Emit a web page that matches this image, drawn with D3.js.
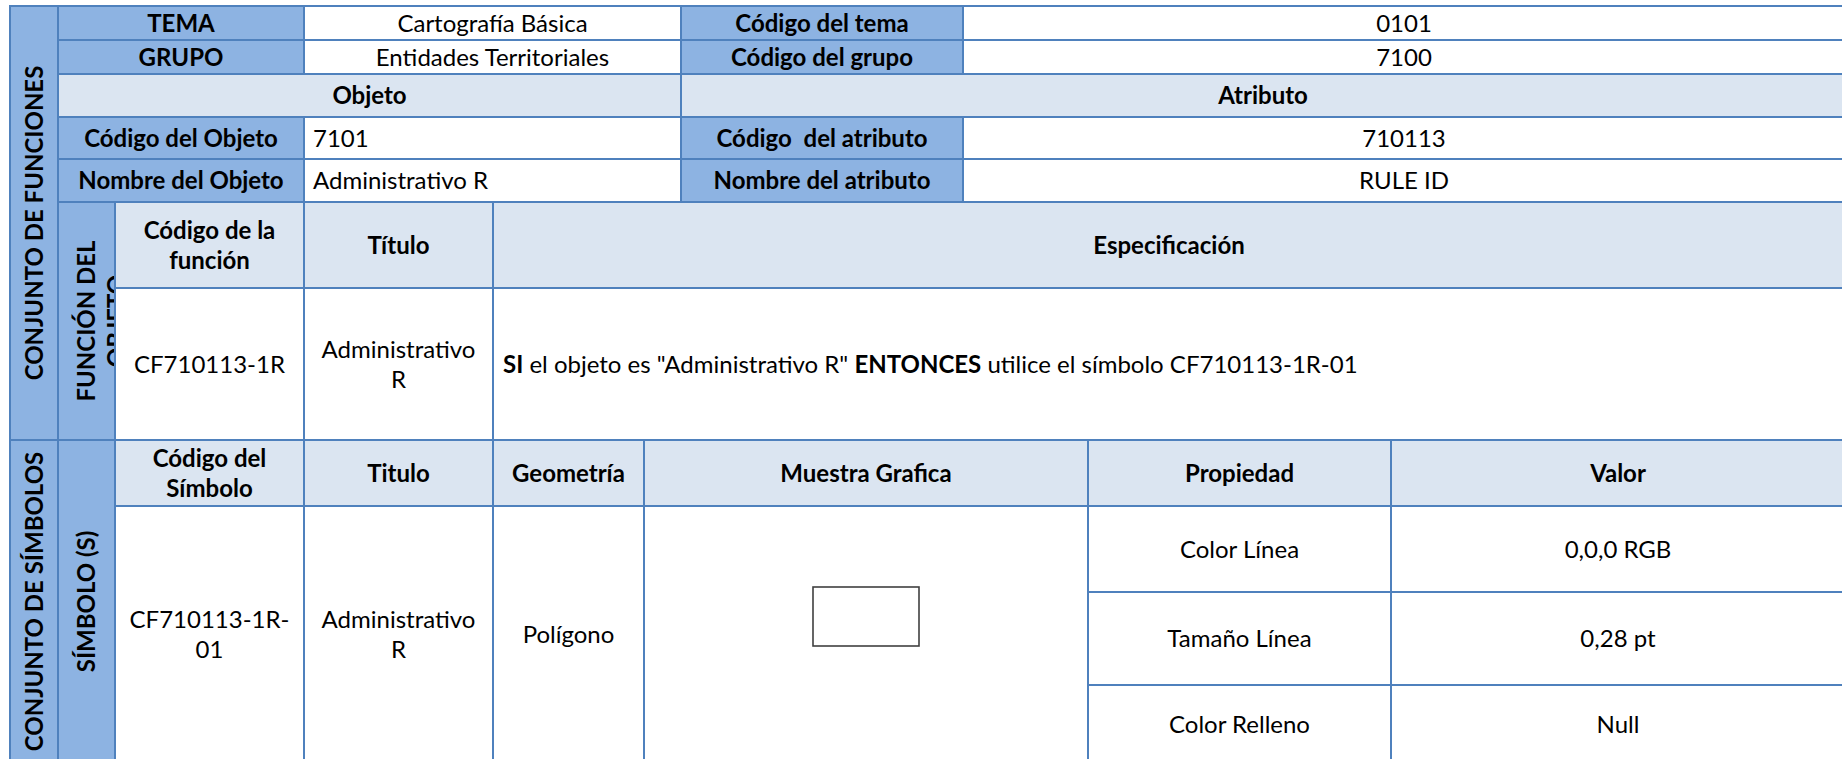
<!DOCTYPE html>
<html>
<head>
<meta charset="utf-8">
<script src="https://cdn.jsdelivr.net/npm/d3@7"></script>
<style>
  html, body { margin: 0; padding: 0; background: #ffffff; overflow: hidden; }
  svg text { font-family: Lato, "Open Sans", sans-serif; white-space: pre; fill: #000; }
</style>
</head>
<body>
<svg id="chart" width="1842" height="759"></svg>
<script>
// ---- data ----
const temaRow = ["TEMA", "Cartografía Básica", "Código del tema", "0101"];
const grupoRow = ["GRUPO", "Entidades Territoriales", "Código del grupo", "7100"];
const seccionTitulos = ["Objeto", "Atributo"];
const codigoRow = ["Código del Objeto", "7101", "Código  del atributo", "710113"];
const nombreRow = ["Nombre del Objeto", "Administrativo R", "Nombre del atributo", "RULE ID"];
const grupoLabels = ["CONJUNTO DE FUNCIONES", "CONJUNTO DE SÍMBOLOS"];
const subgrupoLabels = [["FUNCIÓN DEL", "OBJETO"], ["SÍMBOLO (S)"]];
const funcionHeaders = [["Código de la", "función"], ["Título"], ["Especificación"]];
const funcionValues = [["CF710113-1R"], ["Administrativo", "R"]];
const especificacion = [
  { t: "SI", b: true },
  { t: " el objeto es \"Administrativo R\" ", b: false },
  { t: "ENTONCES", b: true },
  { t: " utilice el símbolo CF710113-1R-01", b: false }
];
const simboloHeaders = [["Código del", "Símbolo"], ["Titulo"], ["Geometría"], ["Muestra Grafica"], ["Propiedad"], ["Valor"]];
const simboloValues = [["CF710113-1R-", "01"], ["Administrativo", "R"], ["Polígono"]];
const propiedades = ["Color Línea", "Tamaño Línea", "Color Relleno"];
const valores = ["0,0,0 RGB", "0,28 pt", "Null"];

// ---- layout ----
const colEdges = [10, 58, 115, 304, 493, 644, 681, 963, 1088, 1391, 1845];
const rowEdges = [6, 40, 74, 117, 159, 202, 288, 440, 506, 592, 685, 763];
const x = d3.scaleOrdinal(d3.range(colEdges.length), colEdges);
const y = d3.scaleOrdinal(d3.range(rowEdges.length), rowEdges);

const DARK = "#8db3e2", LIGHT = "#dbe5f1", WHITE = "#ffffff", BORDER = "#4f81bd";
const FS = 24, LH = 30;

const cells = [];
function cell(c0, c1, r0, r1, fill, lines, opts = {}) {
  cells.push(Object.assign({ c0, c1, r0, r1, fill, lines: Array.isArray(lines) ? lines : [lines] }, opts));
}

// header block
cell(0, 1, 0, 7, DARK, [grupoLabels[0]], { bold: true, rotate: true });
[temaRow, grupoRow].forEach((row, i) => {
  cell(1, 3, i, i + 1, DARK, row[0], { bold: true });
  cell(3, 6, i, i + 1, WHITE, row[1]);
  cell(6, 7, i, i + 1, DARK, row[2], { bold: true });
  cell(7, 10, i, i + 1, WHITE, row[3]);
});
cell(1, 6, 2, 3, LIGHT, seccionTitulos[0], { bold: true });
cell(6, 10, 2, 3, LIGHT, seccionTitulos[1], { bold: true });
[codigoRow, nombreRow].forEach((row, i) => {
  const r = 3 + i;
  cell(1, 3, r, r + 1, DARK, row[0], { bold: true });
  cell(3, 6, r, r + 1, WHITE, row[1], { align: "left" });
  cell(6, 7, r, r + 1, DARK, row[2], { bold: true });
  cell(7, 10, r, r + 1, WHITE, row[3]);
});
// function block
cell(1, 2, 5, 7, DARK, subgrupoLabels[0], { bold: true, rotate: true, firstLineCentered: true, clip: true });
cell(2, 3, 5, 6, LIGHT, funcionHeaders[0], { bold: true });
cell(3, 4, 5, 6, LIGHT, funcionHeaders[1], { bold: true });
cell(4, 10, 5, 6, LIGHT, funcionHeaders[2], { bold: true });
cell(2, 3, 6, 7, WHITE, funcionValues[0]);
cell(3, 4, 6, 7, WHITE, funcionValues[1]);
cell(4, 10, 6, 7, WHITE, [], { rich: especificacion, align: "left" });
// symbol block
cell(0, 1, 7, 11, DARK, [grupoLabels[1]], { bold: true, rotate: true });
cell(1, 2, 7, 11, DARK, subgrupoLabels[1], { bold: true, rotate: true });
const symCols = [[2, 3], [3, 4], [4, 5], [5, 8], [8, 9], [9, 10]];
simboloHeaders.forEach((h, i) => cell(symCols[i][0], symCols[i][1], 7, 8, LIGHT, h, { bold: true }));
simboloValues.forEach((v, i) => cell(symCols[i][0], symCols[i][1], 8, 11, WHITE, v));
cell(5, 8, 8, 11, WHITE, [], { sample: true });
propiedades.forEach((p, i) => {
  cell(8, 9, 8 + i, 9 + i, WHITE, p);
  cell(9, 10, 8 + i, 9 + i, WHITE, valores[i]);
});

// ---- draw ----
const svg = d3.select("#chart");
const defs = svg.append("defs");

const g = svg.selectAll("g.cell").data(cells).join("g").attr("class", "cell");

g.append("rect")
  .attr("x", d => x(d.c0)).attr("y", d => y(d.r0))
  .attr("width", d => x(d.c1) - x(d.c0)).attr("height", d => y(d.r1) - y(d.r0))
  .attr("fill", d => d.fill);

g.each(function (d, i) {
  const sel = d3.select(this);
  const x0 = x(d.c0), x1 = x(d.c1), y0 = y(d.r0), y1 = y(d.r1);
  const cx = (x0 + x1) / 2, cy = (y0 + y1) / 2;
  const tg = sel.append("g");
  if (d.clip) {
    defs.append("clipPath").attr("id", "clip" + i)
      .append("rect").attr("x", x0 + 1).attr("y", y0 + 1).attr("width", x1 - x0 - 2).attr("height", y1 - y0 - 2);
    tg.attr("clip-path", `url(#clip${i})`);
  }
  if (d.sample) {
    tg.append("rect").attr("x", 813).attr("y", 587).attr("width", 106).attr("height", 59)
      .attr("fill", "#fff").attr("stroke", "#404040").attr("stroke-width", 1.6);
    return;
  }
  if (d.rich) {
    const t = tg.append("text").attr("x", x0 + 10).attr("y", cy).attr("dy", "0.36em")
      .attr("font-size", FS);
    d.rich.forEach(p => t.append("tspan").attr("font-weight", p.b ? 700 : 400).text(p.t));
    return;
  }
  const n = d.lines.length;
  const startOff = d.firstLineCentered ? 0 : -(n - 1) * LH / 2;
  const t = tg.append("text")
    .attr("font-size", FS)
    .attr("font-weight", d.bold ? 700 : 400)
    .attr("text-anchor", d.align === "left" ? "start" : "middle");
  if (d.rotate) {
    t.attr("transform", `translate(${cx},${cy}) rotate(-90)`);
    d.lines.forEach((ln, k) => t.append("tspan").attr("x", 0).attr("y", startOff + k * LH).attr("dy", "0.36em").text(ln));
  } else {
    const tx = d.align === "left" ? x0 + 9 : cx;
    d.lines.forEach((ln, k) => t.append("tspan").attr("x", tx).attr("y", cy + startOff + k * LH).attr("dy", "0.36em").text(ln));
  }
});

// borders on top
svg.append("g").selectAll("rect").data(cells).join("rect")
  .attr("x", d => x(d.c0)).attr("y", d => y(d.r0))
  .attr("width", d => x(d.c1) - x(d.c0)).attr("height", d => y(d.r1) - y(d.r0))
  .attr("fill", "none").attr("stroke", BORDER).attr("stroke-width", 2);
</script>
</body>
</html>
